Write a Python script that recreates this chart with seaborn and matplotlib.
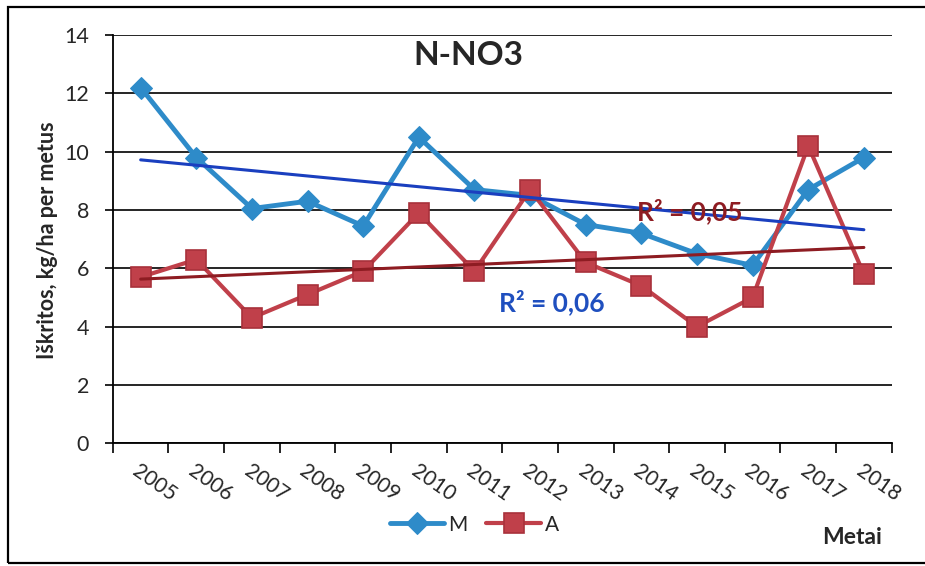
import numpy as np
import pandas as pd
import matplotlib
matplotlib.use("Agg")
import matplotlib.pyplot as plt
from matplotlib.patches import Rectangle
import seaborn as sns

# === Duomenys (nuskaityti nuo grafiko) ===
metai = ["2005", "2006", "2007", "2008", "2009", "2010", "2011",
         "2012", "2013", "2014", "2015", "2016", "2017", "2018"]
m_vals = [12.2, 9.8, 8.05, 8.3, 7.45, 10.5, 8.7, 8.5, 7.5, 7.2, 6.5, 6.1, 8.7, 9.8]
a_vals = [5.7, 6.3, 4.3, 5.1, 5.9, 7.9, 5.9, 8.7, 6.2, 5.4, 4.0, 5.0, 10.2, 5.8]
r2_m_txt = "R² = 0,06"
r2_a_txt = "R² = 0,05"

# === Spalvos ===
mel = "#2E8BC9"
mel_trend = "#1A3FBF"
raud = "#C0404A"
raud_krast = "#A8313B"
raud_trend = "#8E1C22"

sns.set_style("ticks")
plt.rcParams["font.family"] = ["Lato", "DejaVu Sans"]

x = np.arange(len(metai))
df = pd.DataFrame({
    "x": np.concatenate([x, x]),
    "y": m_vals + a_vals,
    "serija": ["M"] * len(x) + ["A"] * len(x),
})

fig = plt.figure(figsize=(9.25, 5.66), dpi=100)
ax = fig.add_axes([0.122, 0.217, 0.842, 0.721])

# === Serijos ===
sns.lineplot(data=df[df.serija == "M"], x="x", y="y", ax=ax, color=mel,
             linewidth=3.5, marker="D", markersize=11, markeredgecolor=mel,
             label="M", zorder=3)
sns.lineplot(data=df[df.serija == "A"], x="x", y="y", ax=ax, color=raud,
             linewidth=3, marker="s", markersize=14, markerfacecolor=raud,
             markeredgecolor=raud_krast, markeredgewidth=1.2,
             label="A", zorder=4)

# === Tiesiniai trendai ===
kof_m = np.polyfit(x, m_vals, 1)
kof_a = np.polyfit(x, a_vals, 1)
sns.lineplot(x=x, y=np.polyval(kof_m, x), ax=ax, color=mel_trend,
             linewidth=2.2, legend=False, zorder=5)
sns.lineplot(x=x, y=np.polyval(kof_a, x), ax=ax, color=raud_trend,
             linewidth=2.2, legend=False, zorder=5)

ax.text(7.39, 4.84, r2_m_txt, color="#1F4FBF", fontsize=19, fontweight="bold",
        ha="center", va="center", zorder=6)
ax.text(9.87, 7.95, r2_a_txt, color=raud_trend, fontsize=19, fontweight="bold",
        ha="center", va="center", zorder=6)

ax.text(0.457, 0.951, "N-NO3", transform=ax.transAxes, fontsize=24,
        fontweight="bold", ha="center", va="center")

# === Ašys ===
ax.set_ylim(0, 14)
ax.set_yticks(np.arange(0, 15, 2))
ax.set_xlim(-0.5, len(x) - 0.5)
ax.set_xticks(np.arange(-0.5, len(x), 1))
ax.set_xticklabels([])
ax.set_xticks(x, minor=True)
ax.set_xticklabels(metai, minor=True, rotation=-35, ha="left",
                   rotation_mode="anchor", fontsize=15)
ax.tick_params(axis="x", which="major", length=7, width=1.2, color="black")
ax.tick_params(axis="x", which="minor", length=0, pad=13)
ax.tick_params(axis="y", length=6, width=1.2, pad=11, labelsize=15.5, color="black")
ax.yaxis.grid(True, color="black", linewidth=1.2)
ax.set_axisbelow(True)
ax.set_xlabel("")
ax.set_ylabel("")
for s in ["top", "right"]:
    ax.spines[s].set_visible(False)
for s in ["left", "bottom"]:
    ax.spines[s].set_color("black")
    ax.spines[s].set_linewidth(1.3)

fig.text(0.051, 0.576, "Iškritos, kg/ha per metus", rotation=90,
         fontsize=15.5, fontweight="bold", ha="center", va="center")
fig.text(0.921, 0.05, "Metai", fontsize=16.5, fontweight="bold",
         ha="center", va="center")

# === Legenda ===
h, l = ax.get_legend_handles_labels()
ax.legend(h, l, loc="center", bbox_to_anchor=(0.513, 0.073),
          bbox_transform=fig.transFigure, ncol=2, frameon=False,
          fontsize=15, handlelength=2.6, columnspacing=0.9, handletextpad=0.2,
          borderpad=0.1)

# === Rėmelis ===
fig.patches.append(Rectangle((0.0086, 0.0053), 1.1, 0.982,
                             transform=fig.transFigure, fill=False,
                             edgecolor="black", linewidth=1.6))

fig.savefig("out.png", dpi=100)
